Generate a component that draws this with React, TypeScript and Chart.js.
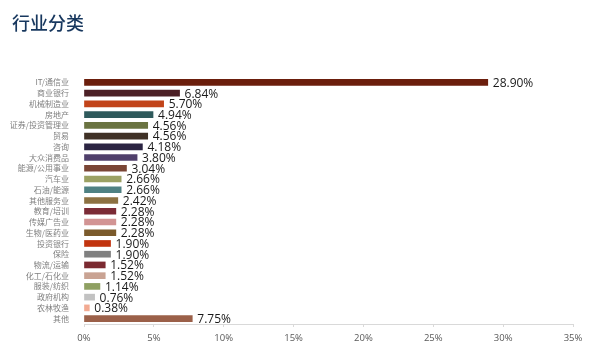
import React, { useEffect, useRef } from "react";
import { Chart, registerables } from "chart.js";

Chart.register(...registerables);

const categories = [
  "IT/通信业", "商业银行", "机械制造业", "房地产", "证券/投资管理业", "贸易", "咨询", "大众消费品",
  "能源/公用事业", "汽车业", "石油/能源", "其他服务业", "教育/培训", "传媒广告业", "生物/医药业",
  "投资银行", "保险", "物流/运输", "化工/石化业", "服装/纺织", "政府机构", "农林牧渔", "其他",
];
const values = [
  28.9, 6.84, 5.7, 4.94, 4.56, 4.56, 4.18, 3.8, 3.04, 2.66, 2.66, 2.42, 2.28, 2.28, 2.28,
  1.9, 1.9, 1.52, 1.52, 1.14, 0.76, 0.38, 7.75,
];
const barColors = [
  "#6B1E0C", "#4C2026", "#C2441A", "#2F5A5C", "#6A7341", "#3F3126", "#2B2442", "#4F3F6B",
  "#7A4535", "#9BA163", "#4F8183", "#8C7142", "#7B2B36", "#D29494", "#7B5B2C",
  "#C2340F", "#808080", "#7B2A31", "#C9A393", "#8FA062", "#C2C2C2", "#F2AA92", "#9B6049",
];
const xTicks = [0, 5, 10, 15, 20, 25, 30, 35];
const title = "行业分类";

export default function App() {
  const ref = useRef<HTMLCanvasElement | null>(null);
  useEffect(() => {
    document.body.style.margin = "0";
    const canvas = ref.current;
    if (!canvas) return;
    const titlePlugin = {
      id: "titleText",
      afterDraw(chart: any) {
        const ctx = chart.ctx;
        ctx.save();
        ctx.font = "500 18px 'Noto Sans CJK SC'";
        ctx.fillStyle = "#17375E";
        ctx.textBaseline = "alphabetic";
        ctx.textAlign = "left";
        ctx.fillText(title, 12, 30);
        ctx.restore();
      },
    };
    const labelPlugin = {
      id: "valueLabels",
      afterDatasetsDraw(chart: any) {
        const ctx = chart.ctx;
        const meta = chart.getDatasetMeta(0);
        ctx.save();
        ctx.font = "12px 'Open Sans'";
        ctx.fillStyle = "#1A1A1A";
        ctx.textBaseline = "middle";
        ctx.textAlign = "left";
        meta.data.forEach((bar: any, i: number) => {
          ctx.fillText(values[i].toFixed(2) + "%", bar.x + 5, bar.y + 1);
        });
        ctx.restore();
      },
    };
    const chart = new Chart(canvas, {
      type: "bar",
      data: {
        labels: categories,
        datasets: [
          {
            data: values,
            backgroundColor: barColors,
            barThickness: 6,
          },
        ],
      },
      options: {
        indexAxis: "y",
        animation: false,
        responsive: false,
        maintainAspectRatio: false,
        layout: { padding: { top: 77, right: 22, bottom: 0, left: 0 } },
        plugins: { legend: { display: false }, tooltip: { enabled: false }, title: { display: false } },
        scales: {
          x: {
            min: 0,
            max: 35,
            afterFit(scale: any) {
              scale.height = 35;
            },
            afterBuildTicks(scale: any) {
              scale.ticks = xTicks.map((v) => ({ value: v }));
            },
            ticks: {
              callback: (v: any) => v + "%",
              color: "#595959",
              font: { size: 9.5, family: "'Open Sans'" },
              padding: 6,
            },
            grid: { display: true, drawOnChartArea: false, tickLength: 3, color: "#D9D9D9" },
            border: { display: true, color: "#D9D9D9" },
          },
          y: {
            afterFit(scale: any) {
              scale.width = 84;
            },
            ticks: {
              color: "#7F7F7F",
              font: { size: 8, family: "'Noto Sans CJK SC'" },
              padding: 7,
              autoSkip: false,
            },
            grid: { display: false },
            border: { display: false },
          },
        },
      },
      plugins: [titlePlugin, labelPlugin],
    });
    return () => chart.destroy();
  }, []);
  return <canvas ref={ref} width={595} height={359} style={{ display: "block" }} />;
}
